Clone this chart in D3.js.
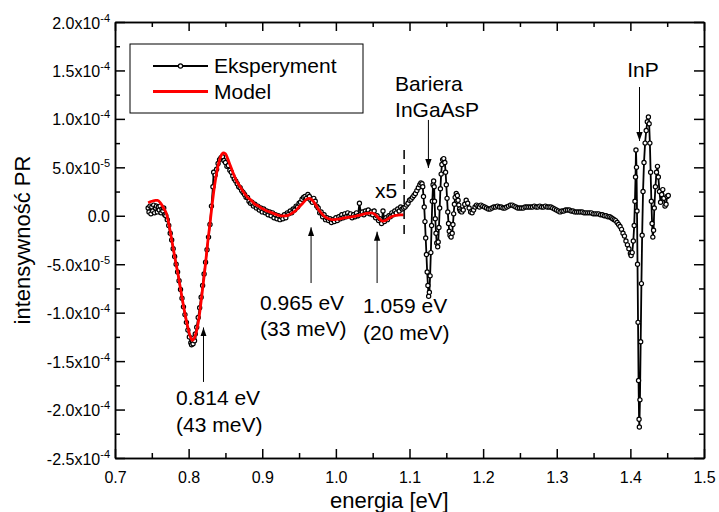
<!DOCTYPE html>
<html>
<head>
<meta charset="utf-8">
<script src="https://cdn.jsdelivr.net/npm/d3@7"></script>
<style>
body { margin: 0; background: #fff; }
svg text { font-family: "Liberation Sans", Arial, sans-serif; fill: #000; }
</style>
</head>
<body>
<div id="chart"></div>
<script>
// energy [eV], PR intensity in units of 1e-5
const expData = [
  [0.7450,0.8],[0.7462,0.4],[0.7475,1.0],[0.7488,0.2],[0.7500,0.9],[0.7512,0.5],[0.7525,1.1],[0.7538,0.3],
  [0.7550,0.8],[0.7562,1.0],[0.7575,0.4],[0.7588,0.9],[0.7600,0.6],[0.7612,1.0],[0.7625,0.3],[0.7638,0.7],
  [0.7650,0.5],[0.7662,0.8],[0.7675,0.1],[0.7690,0.0],[0.771,-0.4],[0.773,-1.0],[0.775,-1.8],[0.777,-2.5],
  [0.779,-3.4],[0.781,-4.2],[0.783,-5.0],[0.785,-5.8],[0.787,-6.7],[0.789,-7.6],[0.791,-8.5],[0.793,-9.4],
  [0.795,-10.2],[0.797,-11.0],[0.799,-11.8],[0.801,-12.5],[0.803,-13.1],[0.804,-13.3],[0.805,-12.9],[0.806,-13.2],
  [0.807,-12.6],[0.808,-12.9],[0.809,-12.2],[0.811,-11.5],[0.813,-10.5],[0.815,-9.5],[0.817,-8.4],[0.819,-7.2],
  [0.821,-6.0],[0.823,-4.8],[0.825,-3.5],[0.827,-2.2],[0.829,-0.9],[0.831,1.0],[0.833,3.0],[0.834,4.5],
  [0.836,4.2],[0.838,4.8],[0.840,5.4],[0.842,5.8],[0.844,6.0],[0.846,6.1],[0.848,5.7],[0.850,5.5],
  [0.852,5.1],[0.854,5.2],[0.856,4.7],[0.858,4.5],[0.860,4.1],[0.862,3.8],[0.864,3.6],[0.866,3.3],
  [0.868,3.0],[0.870,2.9],[0.872,2.6],[0.874,2.4],[0.876,2.2],[0.878,1.9],[0.880,1.9],[0.882,1.5],
  [0.884,1.3],[0.886,1.4],[0.888,1.0],[0.890,1.2],[0.892,0.8],[0.894,1.0],[0.896,0.6],[0.898,0.8],
  [0.900,0.4],[0.902,0.7],[0.904,0.3],[0.906,0.5],[0.908,0.1],[0.910,0.4],[0.912,0.0],[0.914,0.3],
  [0.916,-0.2],[0.918,0.1],[0.920,-0.3],[0.922,0.0],[0.924,-0.4],[0.926,-0.1],[0.928,-0.3],[0.930,0.1],
  [0.932,-0.2],[0.934,0.3],[0.936,0.2],[0.938,0.5],[0.940,0.3],[0.942,0.7],[0.944,0.6],[0.946,1.0],
  [0.948,0.9],[0.950,1.3],[0.952,1.4],[0.954,1.7],[0.956,1.9],[0.958,2.0],[0.960,1.8],[0.962,2.2],
  [0.964,2.0],[0.966,1.6],[0.968,1.4],[0.970,1.8],[0.972,1.5],[0.974,1.0],[0.976,0.8],[0.978,0.3],
  [0.980,0.4],[0.982,-0.1],[0.984,0.1],[0.986,-0.4],[0.988,-0.2],[0.990,-0.5],[0.992,-0.3],[0.994,-0.7],
  [0.996,-0.4],[0.998,-0.6],[1.000,-0.2],[1.002,-0.5],[1.004,-0.1],[1.006,-0.3],[1.008,0.1],[1.010,-0.2],
  [1.012,0.2],[1.014,-0.1],[1.016,0.3],[1.018,0.0],[1.020,0.2],[1.022,-0.2],[1.024,0.1],[1.026,-0.1],
  [1.028,0.3],[1.030,0.0],[1.032,1.3],[1.034,0.2],[1.036,0.4],[1.038,0.1],[1.040,0.5],[1.042,0.3],
  [1.044,0.6],[1.046,0.2],[1.048,0.4],[1.050,0.1],[1.052,0.5],[1.054,-0.2],[1.056,0.0],[1.058,-0.5],
  [1.060,-0.3],[1.062,-0.8],[1.064,0.5],[1.066,-0.6],[1.068,-0.2],[1.070,-0.4],[1.072,0.0],[1.074,-0.1],
  [1.076,0.3],[1.078,0.1],[1.080,0.5],[1.082,0.3],[1.084,0.7],[1.086,0.5],[1.088,0.9],[1.090,0.7],
  [1.092,0.8],[1.094,0.9],[1.096,1.1],[1.098,1.3],[1.100,1.6],[1.102,1.7],[1.104,1.9],[1.106,2.1],
  [1.108,2.3],[1.110,2.6],[1.112,2.9],[1.114,3.2],[1.1155,3.4],[1.117,3.3],[1.118,3.0],[1.119,2.0],
  [1.120,0.9],[1.121,-0.6],[1.122,-2.3],[1.123,-4.0],[1.124,-5.8],[1.125,-7.2],[1.126,-8.3],[1.127,-7.9],
  [1.128,-6.2],[1.129,-3.8],[1.130,-1.0],[1.131,1.5],[1.132,3.2],[1.1328,3.6],[1.1335,3.0],[1.134,1.5],
  [1.135,-0.3],[1.136,-1.8],[1.137,-2.8],[1.1383,-3.2],[1.139,-2.7],[1.140,-1.2],[1.141,0.8],[1.142,2.8],
  [1.143,4.3],[1.144,5.3],[1.145,5.8],[1.1465,5.9],[1.148,5.5],[1.149,4.5],[1.150,3.2],[1.151,1.8],
  [1.152,0.4],[1.153,-0.8],[1.154,-1.6],[1.155,-2.0],[1.1565,-2.2],[1.158,-1.8],[1.159,-0.9],[1.160,0.2],
  [1.161,1.2],[1.162,1.9],[1.1635,2.3],[1.165,2.1],[1.166,1.6],[1.167,1.1],[1.168,0.7],[1.169,0.5],
  [1.171,0.4],[1.173,0.6],[1.175,1.2],[1.177,1.6],[1.179,1.3],[1.181,0.8],[1.183,0.4],[1.185,0.3],
  [1.187,0.6],[1.189,0.9],[1.191,1.1],[1.193,1.0],[1.195,0.9],[1.197,1.1],[1.1995,1.0],[1.202,0.9],
  [1.2045,0.8],[1.207,0.7],[1.2095,0.7],[1.212,0.8],[1.2145,0.9],[1.217,0.9],[1.2195,1.0],[1.222,0.9],
  [1.2245,0.9],[1.227,0.8],[1.2295,0.8],[1.232,0.9],[1.2345,1.0],[1.237,1.1],[1.2395,1.1],[1.242,1.0],
  [1.2445,0.9],[1.247,0.8],[1.2495,0.8],[1.252,0.8],[1.2545,0.8],[1.257,0.9],[1.2595,0.9],[1.262,0.9],
  [1.2645,0.9],[1.267,0.9],[1.2695,1.0],[1.272,0.9],[1.2745,0.9],[1.277,1.0],[1.2795,0.9],[1.282,0.9],
  [1.2845,1.0],[1.287,0.9],[1.2895,0.9],[1.292,0.9],[1.2945,0.8],[1.297,0.7],[1.2995,0.6],[1.302,0.5],
  [1.3045,0.4],[1.307,0.5],[1.3095,0.5],[1.312,0.6],[1.3145,0.6],[1.317,0.6],[1.3195,0.5],[1.322,0.5],
  [1.3245,0.4],[1.327,0.4],[1.3295,0.4],[1.332,0.4],[1.3345,0.4],[1.337,0.3],[1.3395,0.3],[1.342,0.3],
  [1.3445,0.3],[1.347,0.3],[1.3495,0.2],[1.352,0.2],[1.3545,0.2],[1.357,0.2],[1.3595,0.1],[1.362,0.1],
  [1.3645,0.0],[1.367,0.0],[1.3695,-0.1],[1.372,-0.1],[1.374,-0.2],[1.376,-0.3],[1.378,-0.4],[1.380,-0.5],
  [1.382,-0.7],[1.384,-0.9],[1.386,-1.1],[1.388,-1.4],[1.390,-1.8],[1.392,-2.1],[1.394,-2.6],[1.396,-3.0],
  [1.398,-3.4],[1.400,-3.9],[1.401,-4.1],[1.4025,-3.8],[1.4040,-2.6],[1.4052,-1.0],[1.4062,1.5],[1.4070,4.0],
  [1.4076,6.8],[1.4083,5.0],[1.4090,0.5],[1.4097,-5.0],[1.4104,-11.0],[1.4111,-17.0],[1.4118,-21.0],[1.4122,-21.8],
  [1.4130,-19.0],[1.4140,-13.0],[1.4150,-7.0],[1.4160,-2.0],[1.4172,2.5],[1.4185,5.5],[1.4200,7.5],[1.4215,8.8],
  [1.4230,9.7],[1.4245,10.2],[1.4255,9.5],[1.4265,7.5],[1.4275,4.5],[1.4285,1.5],[1.4295,-0.8],[1.4305,-2.2],
  [1.4315,-1.5],[1.4325,0.8],[1.4340,3.0],[1.4355,4.5],[1.4368,5.1],[1.4380,4.0],[1.4395,2.5],[1.4410,1.4],
  [1.4425,2.2],[1.4440,2.7],[1.4455,1.8],[1.4470,1.0],[1.4485,1.2],[1.4500,2.0],[1.4515,2.1]
];

const modelData = [
  [0.745,1.35],[0.750,1.5],[0.755,1.6],[0.758,1.6],[0.762,1.3],[0.766,0.8],[0.770,0.2],[0.774,-1.2],
  [0.778,-2.9],[0.782,-4.6],[0.786,-6.2],[0.790,-8.0],[0.794,-9.7],[0.798,-11.2],[0.802,-12.4],[0.805,-12.85],
  [0.808,-12.6],[0.811,-11.8],[0.814,-10.6],[0.817,-8.8],[0.820,-6.9],[0.823,-4.9],[0.826,-2.7],[0.829,-0.8],
  [0.832,1.2],[0.835,3.0],[0.838,4.4],[0.841,5.5],[0.844,6.2],[0.847,6.5],[0.850,6.4],[0.853,5.9],
  [0.856,5.3],[0.860,4.5],[0.865,3.6],[0.870,3.0],[0.875,2.4],[0.880,1.9],[0.885,1.6],[0.890,1.2],
  [0.895,1.0],[0.900,0.75],[0.905,0.55],[0.910,0.4],[0.915,0.25],[0.920,0.1],[0.925,0.0],[0.930,0.0],
  [0.935,0.05],[0.940,0.25],[0.945,0.5],[0.950,0.9],[0.955,1.3],[0.960,1.7],[0.964,1.8],[0.968,1.6],
  [0.972,1.2],[0.976,0.7],[0.980,0.3],[0.985,-0.1],[0.990,-0.3],[0.996,-0.4],[1.002,-0.35],[1.010,-0.25],
  [1.018,-0.15],[1.026,-0.05],[1.034,0.1],[1.042,0.25],[1.048,0.3],[1.053,0.15],[1.057,-0.15],[1.061,-0.45],
  [1.064,-0.55],[1.068,-0.45],[1.072,-0.25],[1.077,-0.05],[1.083,0.05],[1.088,0.1],[1.092,0.1]
];

const xTicks = [0.7, 0.8, 0.9, 1.0, 1.1, 1.2, 1.3, 1.4, 1.5];
const yTicks = [-25, -20, -15, -10, -5, 0, 5, 10, 15, 20];
const yTickLabels = [
  ["-2.5x10", "-4"], ["-2.0x10", "-4"], ["-1.5x10", "-4"], ["-1.0x10", "-4"], ["-5.0x10", "-5"],
  ["0.0", ""], ["5.0x10", "-5"], ["1.0x10", "-4"], ["1.5x10", "-4"], ["2.0x10", "-4"]
];

// annotations: [energy, value] anchors in data units
const arrows = [
  { from: [0.8202, -17.15], to: [0.8202, -11.53] },
  { from: [0.9663, -6.94], to: [0.9663, -1.19] },
  { from: [1.0560, -6.94], to: [1.0560, -1.64] },
  { from: [1.1257, 9.89], to: [1.1257, 4.93] },
  { from: [1.4124, 13.29], to: [1.4124, 7.72] }
];
const labels = [
  { at: [0.7829, -19.53], lines: ["0.814 eV", "(43 meV)"] },
  { at: [0.8970, -9.72], lines: ["0.965 eV", "(33 meV)"] },
  { at: [1.0370, -10.08], lines: ["1.059 eV", "(20 meV)"] },
  { at: [1.0533, 1.84], lines: ["x5"] },
  { at: [1.0804, 12.88], lines: ["Bariera", "InGaAsP"] },
  { at: [1.3957, 14.33], lines: ["InP"] }
];
const scaleBreak = { e: 1.0927, top: 6.79, bottom: -2.08 };

const margin = { top: 22, right: 15, bottom: 54, left: 115 };
const fullW = 719, fullH = 512;
const width = fullW - margin.left - margin.right;
const height = fullH - margin.top - margin.bottom;

const svg = d3.select("#chart")
  .append("svg")
  .attr("width", fullW)
  .attr("height", fullH)
  .append("g")
  .attr("transform", `translate(${margin.left},${margin.top})`);

const x = d3.scaleLinear().domain([0.7, 1.5]).range([0, width]);
const y = d3.scaleLinear().domain([-25, 20]).range([height, 0]);

const xMinor = d3.range(0.75, 1.5, 0.1);
const yMinor = d3.range(-22.5, 20, 5);

// minor ticks
svg.append("g").attr("transform", `translate(0,${height})`)
  .call(d3.axisBottom(x).tickValues(xMinor).tickSize(-5).tickSizeOuter(0).tickFormat(""));
svg.append("g")
  .call(d3.axisTop(x).tickValues(xMinor).tickSize(-5).tickSizeOuter(0).tickFormat(""));
svg.append("g")
  .call(d3.axisLeft(y).tickValues(yMinor).tickSize(-5).tickSizeOuter(0).tickFormat(""));
svg.append("g").attr("transform", `translate(${width},0)`)
  .call(d3.axisRight(y).tickValues(yMinor).tickSize(-5).tickSizeOuter(0).tickFormat(""));

// major ticks
const xAxis = svg.append("g").attr("transform", `translate(0,${height})`)
  .call(d3.axisBottom(x).tickValues(xTicks).tickSize(-9).tickSizeOuter(0).tickPadding(14)
    .tickFormat(d3.format(".1f")));
svg.append("g")
  .call(d3.axisTop(x).tickValues(xTicks).tickSize(-9).tickSizeOuter(0).tickFormat(""));
const yAxis = svg.append("g")
  .call(d3.axisLeft(y).tickValues(yTicks).tickSize(-10).tickSizeOuter(0).tickPadding(5)
    .tickFormat(""));
svg.append("g").attr("transform", `translate(${width},0)`)
  .call(d3.axisRight(y).tickValues(yTicks).tickSize(-10).tickSizeOuter(0).tickFormat(""));

svg.selectAll(".domain, .tick line").attr("stroke", "#000").attr("stroke-width", 1.5);
xAxis.selectAll("text").style("font-size", "16px").attr("fill", "#000");

yAxis.selectAll(".tick text").each(function(d) {
  const lab = yTickLabels[yTicks.indexOf(d)];
  const t = d3.select(this).style("font-size", "16px").attr("dy", "6");
  t.append("tspan").text(lab[0]);
  if (lab[1]) t.append("tspan").attr("dy", -7).style("font-size", "11px").text(lab[1]);
});

// axis titles
svg.append("text")
  .attr("transform", `translate(${-85},${height / 2}) rotate(-90)`)
  .attr("text-anchor", "middle")
  .style("font-size", "22px")
  .text("intensywność PR");

svg.append("text")
  .attr("x", x(1.0725))
  .attr("y", height + 50)
  .attr("text-anchor", "middle")
  .style("font-size", "22px")
  .text("energia [eV]");

// experiment
const line = d3.line().x(d => x(d[0])).y(d => y(d[1]));

svg.append("path")
  .datum(expData)
  .attr("fill", "none")
  .attr("stroke", "#000")
  .attr("stroke-width", 1.8)
  .attr("d", line);

svg.append("g").selectAll("circle")
  .data(expData)
  .join("circle")
  .attr("cx", d => x(d[0]))
  .attr("cy", d => y(d[1]))
  .attr("r", 2.1)
  .attr("fill", "#fff")
  .attr("stroke", "#000")
  .attr("stroke-width", 1.2);

// model
svg.append("path")
  .datum(modelData)
  .attr("fill", "none")
  .attr("stroke", "#ff0000")
  .attr("stroke-width", 2.8)
  .attr("d", line.curve(d3.curveMonotoneX));

// scale break
svg.append("line")
  .attr("x1", x(scaleBreak.e)).attr("x2", x(scaleBreak.e))
  .attr("y1", y(scaleBreak.top)).attr("y2", y(scaleBreak.bottom))
  .attr("stroke", "#000")
  .attr("stroke-width", 1.5)
  .attr("stroke-dasharray", "9,6");

// arrows
svg.append("defs").append("marker")
  .attr("id", "head")
  .attr("viewBox", "0 0 10 10")
  .attr("refX", 10).attr("refY", 5)
  .attr("markerWidth", 9).attr("markerHeight", 9)
  .attr("markerUnits", "userSpaceOnUse")
  .attr("orient", "auto")
  .append("path")
  .attr("d", "M0,1.5 L10,5 L0,8.5 Z")
  .attr("fill", "#000");

svg.append("g").selectAll("line")
  .data(arrows)
  .join("line")
  .attr("x1", d => x(d.from[0])).attr("y1", d => y(d.from[1]))
  .attr("x2", d => x(d.to[0])).attr("y2", d => y(d.to[1]))
  .attr("stroke", "#000")
  .attr("stroke-width", 1)
  .attr("marker-end", "url(#head)");

const lab = svg.append("g").selectAll("text")
  .data(labels)
  .join("text")
  .attr("x", d => x(d.at[0]))
  .attr("y", d => y(d.at[1]))
  .style("font-size", "21px");

lab.selectAll("tspan")
  .data(d => d.lines.map((s, i) => ({ s, i, x0: x(d.at[0]) })))
  .join("tspan")
  .attr("x", d => d.x0)
  .attr("dy", d => d.i === 0 ? 0 : 26.5)
  .text(d => d.s);

// legend
const legend = svg.append("g");
legend.append("rect")
  .attr("x", 15).attr("y", 22).attr("width", 233).attr("height", 69)
  .attr("fill", "#fff").attr("stroke", "#000").attr("stroke-width", 1);
legend.append("line").attr("x1", 38).attr("x2", 93).attr("y1", 44).attr("y2", 44)
  .attr("stroke", "#000").attr("stroke-width", 1.8);
legend.append("circle").attr("cx", 65.5).attr("cy", 44).attr("r", 2.1)
  .attr("fill", "#fff").attr("stroke", "#000").attr("stroke-width", 1.2);
legend.append("line").attr("x1", 38).attr("x2", 93).attr("y1", 69.5).attr("y2", 69.5)
  .attr("stroke", "#ff0000").attr("stroke-width", 2.8);
legend.append("text").attr("x", 99).attr("y", 51).style("font-size", "21px").text("Eksperyment");
legend.append("text").attr("x", 99).attr("y", 77).style("font-size", "21px").text("Model");
</script>
</body>
</html>
